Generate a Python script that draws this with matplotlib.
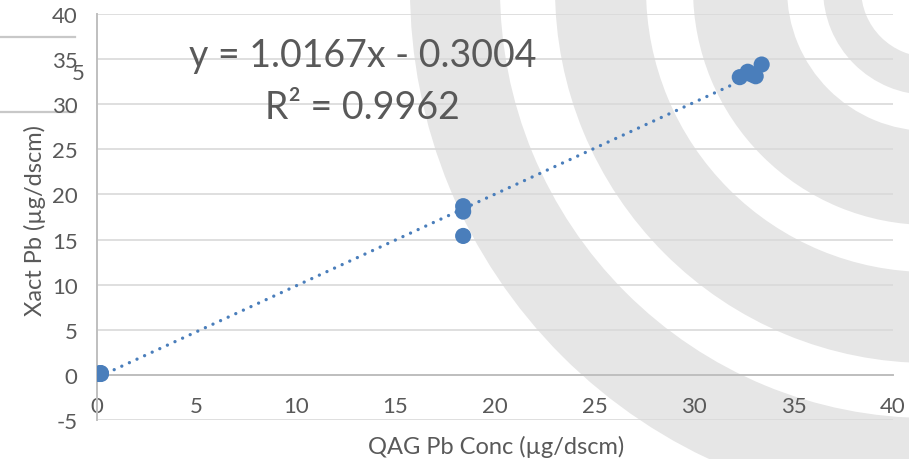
import matplotlib
matplotlib.use("Agg")
import matplotlib.pyplot as plt
from matplotlib.patches import Wedge
import numpy as np

# values
qag_pb = [0.1, 0.15, 0.2, 0.2, 18.4, 18.4, 18.4, 32.3, 32.7, 32.9, 33.1, 33.4]
xact_pb = [0.1, 0.2, 0.1, 0.2, 18.7, 18.1, 15.4, 33.0, 33.6, 33.3, 33.1, 34.4]

trend_slope = 1.0167
trend_intercept = -0.3004
r_squared = 0.9962

x_ticks = [0, 5, 10, 15, 20, 25, 30, 35, 40]
y_ticks = [-5, 0, 5, 10, 15, 20, 25, 30, 35, 40]

x_title = "QAG Pb Conc (\u00b5g/dscm)"
y_title = "Xact Pb (\u00b5g/dscm)"

BLUE = "#4a7ebb"
TEXT = "#595959"
GRID = "#d9d9d9"
AXIS = "#bfbfbf"
WATERMARK = "#e6e6e6"

plt.rcParams["font.family"] = ["Lato", "DejaVu Sans"]
plt.rcParams["axes.unicode_minus"] = False

W, H, DPI = 909, 460, 100
fig = plt.figure(figsize=(W / DPI, H / DPI), dpi=DPI)


def px(x, y):
	# top-left pixel coords -> inches for dpi_scale_trans
	return x / DPI, (H - y) / DPI


# background logo rings (concentric grey bands), kept behind the axes
center = px(929, -10)
for r_out, r_in in [(519, 429), (374, 283), (236, 142), (106, 68)]:
	fig.patches.append(Wedge(center, r_out / DPI, 0, 360, width=(r_out - r_in) / DPI,
		transform=fig.dpi_scale_trans, facecolor=WATERMARK, edgecolor="none", zorder=-5))

# leftover slide bits on the left edge
for y in (38, 113):
	x0, y0 = px(0, y)
	x1, _ = px(75, y)
	fig.lines.append(plt.Line2D([x0, x1], [y0, y0], transform=fig.dpi_scale_trans,
		color="#c8c8c8", lw=1.6, zorder=-4))
fig.text(78 / W, 1 - 74 / H, "5", fontsize=16, color=TEXT, ha="center", va="center")

ax = fig.add_axes([97 / W, 1 - 421 / H, 796 / W, 406 / H])
ax.set_facecolor("none")

ax.set_xlim(0, 40)
ax.set_ylim(-5, 40)
ax.set_xticks(x_ticks)
ax.set_yticks(y_ticks)
ax.yaxis.grid(True, color=GRID, lw=1.2)
ax.set_axisbelow(True)

for side in ("top", "right"):
	ax.spines[side].set_visible(False)
ax.spines["left"].set_color(AXIS)
ax.spines["left"].set_linewidth(1.4)
ax.spines["bottom"].set_position(("data", 0))
ax.spines["bottom"].set_color(AXIS)
ax.spines["bottom"].set_linewidth(1.4)
ax.tick_params(length=0, labelsize=16, labelcolor=TEXT)
ax.tick_params(axis="y", pad=14)
ax.tick_params(axis="x", pad=15)

# dotted linear trendline over the data range
xs = np.array([min(qag_pb), max(qag_pb)])
ax.plot(xs, trend_slope * xs + trend_intercept, color=BLUE, lw=2.4,
	dashes=(0.01, 2.5), dash_capstyle="round", zorder=3)
ax.scatter(qag_pb, xact_pb, s=135, color=BLUE, edgecolor="none", zorder=4)

ax.text(0.334, 0.899, f"y = {trend_slope}x - {abs(trend_intercept)}", transform=ax.transAxes,
	fontsize=27, color=TEXT, ha="center", va="center")
ax.text(0.334, 0.771, f"R\u00b2 = {r_squared}", transform=ax.transAxes,
	fontsize=27, color=TEXT, ha="center", va="center")

ax.set_xlabel(x_title, fontsize=17, color=TEXT)
ax.set_ylabel(y_title, fontsize=17, color=TEXT)
ax.xaxis.set_label_coords(0.501, -0.064)
ax.xaxis.label.set_va("center")
ax.yaxis.set_label_coords(-0.078, 0.495)
ax.yaxis.label.set_va("center")

fig.savefig("out.png", dpi=DPI)
